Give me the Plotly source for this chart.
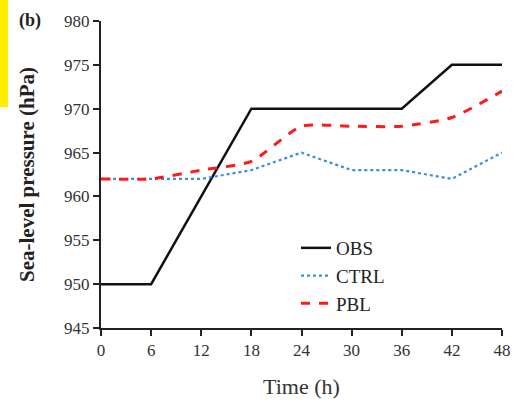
import plotly.graph_objects as go

time_h = [0, 6, 12, 18, 24, 30, 36, 42, 48]
obs = [950, 950, 960, 970, 970, 970, 970, 975, 975]
ctrl = [962, 962, 962, 963, 965, 963, 963, 962, 965]
pbl = [962, 962, 963, 964, 968, 968, 968, 969, 972]
x_ticks = [0, 6, 12, 18, 24, 30, 36, 42, 48]
y_ticks = [945, 950, 955, 960, 965, 970, 975, 980]

W, H = 514, 403
L, R, T, B = 101, 12, 21, 75
pw, ph = W - L - R, H - T - B

fig = go.Figure()
fig.add_trace(go.Scatter(x=time_h, y=obs, mode="lines", name="OBS",
                         line=dict(color="#111", width=2.5)))
fig.add_trace(go.Scatter(x=time_h, y=ctrl, mode="lines", name="CTRL",
                         line=dict(color="#3a8ee0", width=2.2, dash="dot")))
fig.add_trace(go.Scatter(x=time_h, y=pbl, mode="lines", name="PBL",
                         line=dict(color="#ff1a1a", width=3, dash="dash",
                                   shape="spline", smoothing=0.6)))

font = "Liberation Serif, Times New Roman, serif"
axis_common = dict(showgrid=False, zeroline=False, showline=True, linecolor="#222",
                   linewidth=2, ticks="outside", ticklen=6, tickwidth=2, tickcolor="#222",
                   automargin=False, tickfont=dict(size=17, family=font, color="#333"))
fig.update_layout(
    width=W, height=H,
    margin=dict(l=L, r=R, t=T, b=B),
    paper_bgcolor="white", plot_bgcolor="white",
    font=dict(family=font, color="#222", size=17),
    showlegend=True,
    legend=dict(x=(296 - L) / pw, y=1 - (229 - T) / ph, xanchor="left", yanchor="top",
                bgcolor="rgba(0,0,0,0)", font=dict(size=19, family=font, color="#222"),
                tracegroupgap=0),
    xaxis=dict(range=[0, 48], tickvals=x_ticks, ticktext=[str(v) for v in x_ticks],
               title=dict(text="Time (h)", font=dict(size=22, family=font, color="#333"),
                          standoff=19),
               **axis_common),
    yaxis=dict(range=[945, 980], tickvals=y_ticks, ticktext=[str(v) for v in y_ticks],
               title=dict(text="<b>Sea-level pressure (hPa)</b>",
                          font=dict(size=21, family=font, color="#222"), standoff=24),
               **axis_common),
)

fig.add_shape(type="rect", xref="paper", yref="paper",
              x0=-L / pw, x1=-(L - 8) / pw, y0=1 - 86 / ph, y1=1 + T / ph,
              fillcolor="#ffee00", line=dict(width=0), layer="below")
fig.add_annotation(text="<b>(b)</b>", xref="paper", yref="paper",
                   x=-(L - 30) / pw, y=1 + 1 / ph, showarrow=False,
                   font=dict(size=18, family=font, color="#222"),
                   xanchor="center", yanchor="middle")

fig.write_html("out.html", config={"displayModeBar": False},
               post_script="document.body.style.margin='0';document.body.style.overflow='hidden';")
